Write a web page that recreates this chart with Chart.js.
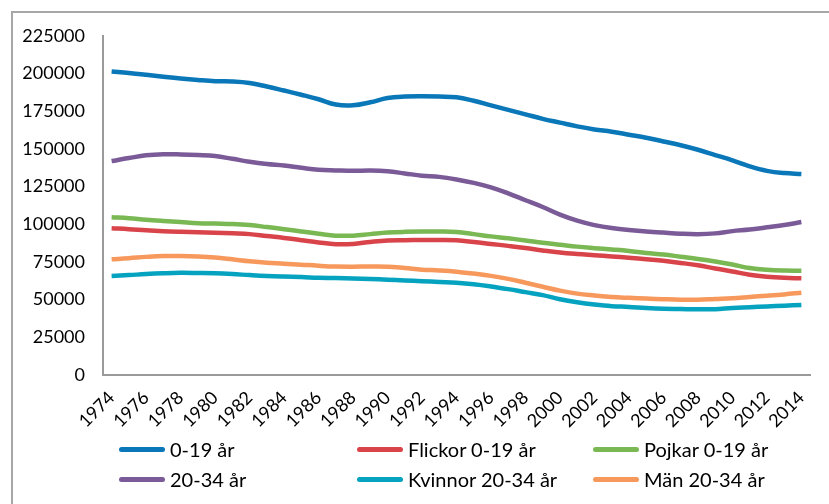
<!DOCTYPE html>
<html>
<head>
<meta charset="utf-8">
<script src="https://cdn.jsdelivr.net/npm/chart.js@4"></script>
<style>
  html, body { margin: 0; padding: 0; background: #fff; }
  #wrap { position: relative; width: 829px; height: 504px; overflow: hidden; font-family: Lato, "Liberation Sans", sans-serif; }
  #frame { position: absolute; left: 11px; top: 11px; width: 900px; height: 600px; border-top: 2px solid #a6a6a6; border-left: 2px solid #a6a6a6; box-sizing: border-box; }
  #chart-box { position: absolute; left: 0; top: 0; width: 829px; height: 430px; }
  #legend { position: absolute; left: 0; top: 0; width: 829px; height: 504px; pointer-events: none; }
  .leg-item { position: absolute; display: flex; align-items: center; font-size: 20px; color: #000; white-space: nowrap; }
  .leg-swatch { width: 46px; height: 5px; border-radius: 3px; margin-right: 5px; }
</style>
</head>
<body>
<div id="wrap">
  <div id="frame"></div>
  <div id="chart-box"><canvas id="chart" width="829" height="430"></canvas></div>
  <div id="legend"></div>
</div>
<script>
// Befolkning per år, 1974–2014
const years = [];
for (let y = 1974; y <= 2014; y++) years.push(String(y));

const yTicks = [0, 25000, 50000, 75000, 100000, 125000, 150000, 175000, 200000, 225000];

const seriesNames = ['0-19 år', 'Flickor 0-19 år', 'Pojkar 0-19 år', '20-34 år', 'Kvinnor 20-34 år', 'Män 20-34 år'];
const seriesColors = ['#0a77b8', '#d9444b', '#7ab853', '#7b5a98', '#05a3bf', '#f7995c'];

const total0to19 = [
  201500, 200500, 199300, 198000, 196800, 195800, 195000, 194800, 193800, 191500,
  188800, 186000, 183000, 179500, 179000, 181000, 183800, 184800, 185000, 184800,
  184300, 182000, 179000, 176000, 173000, 170000, 167500, 165000, 163000, 161500,
  159500, 157500, 155000, 152500, 149500, 146000, 142500, 138500, 135500, 134000,
  133400
];
const girls0to19 = [
  97400, 96800, 96000, 95400, 95000, 94700, 94400, 94000, 93500, 92200,
  91000, 89500, 88000, 86800, 87000, 88300, 89300, 89500, 89600, 89600,
  89400, 88300, 87000, 85700, 84300, 82700, 81300, 80300, 79500, 78700,
  77800, 76900, 75800, 74400, 72800, 70700, 68700, 66500, 65200, 64500,
  64200
];
const boys0to19 = [
  104700, 104000, 103000, 102200, 101500, 100800, 100500, 100200, 99500, 98200,
  96800, 95300, 93800, 92500, 92500, 93500, 94500, 95000, 95200, 95200,
  94900, 93500, 92000, 90700, 89300, 87800, 86500, 85200, 84200, 83300,
  82300, 81000, 80000, 78500, 77000, 75300, 73300, 71000, 69800, 69300,
  69200
];
const total20to34 = [
  142000, 144000, 145800, 146500, 146400, 146000, 145300, 143500, 141500, 140000,
  139000, 137500, 136200, 135800, 135500, 135700, 135200, 133800, 132300, 131500,
  129800, 127500, 124500, 120500, 116000, 111500, 106500, 102500, 99500, 97500,
  96300, 95300, 94500, 93800, 93500, 94000, 95500, 96500, 98000, 99500,
  101500
];
const women20to34 = [
  65700, 66300, 67000, 67500, 67800, 67700, 67500, 67000, 66300, 65700,
  65300, 65000, 64500, 64300, 64000, 63700, 63300, 62800, 62300, 61800,
  61300, 60300, 58800, 57000, 55000, 53000, 50300, 48300, 46800, 45700,
  45200, 44500, 44000, 43800, 43600, 43700, 44500, 45000, 45500, 46000,
  46500
];
const men20to34 = [
  76800, 77500, 78400, 79000, 79000, 78700, 78000, 76800, 75500, 74500,
  73900, 73200, 72500, 72000, 71900, 72000, 71900, 71000, 69900, 69400,
  68600, 67300, 65800, 63800, 61200, 58600, 56000, 54000, 52800, 51800,
  51200, 50700, 50300, 50000, 50000, 50500, 51000, 51800, 52600, 53500,
  54600
];

const allSeries = [total0to19, girls0to19, boys0to19, total20to34, women20to34, men20to34];

const datasets = allSeries.map((data, i) => ({
  label: seriesNames[i],
  data,
  borderColor: seriesColors[i],
  backgroundColor: seriesColors[i],
  borderWidth: 4.5,
  pointRadius: 0,
  tension: 0.4,
  fill: false
}));

// draw order in Excel: first series on the bottom
datasets.forEach((d, i) => { d.order = allSeries.length - i; });

const tickFont = { family: 'Lato, "Liberation Sans", sans-serif', size: 18 };

new Chart(document.getElementById('chart'), {
  type: 'line',
  data: { labels: years, datasets },
  options: {
    responsive: false,
    animation: false,
    layout: { padding: { top: 36, right: 19, left: 0, bottom: 0 } },
    plugins: { legend: { display: false }, tooltip: { enabled: false } },
    scales: {
      x: {
        type: 'category',
        offset: true,
        grid: { display: false },
        border: { display: true, color: '#9a9a9a', width: 2 },
        ticks: {
          autoSkip: false,
          minRotation: 45,
          maxRotation: 45,
          padding: 4,
          color: '#000',
          font: tickFont,
          callback: (v, i) => (i % 2 === 0 ? years[i] : '')
        },
        afterFit: (s) => { s.height = 55; }
      },
      y: {
        min: yTicks[0],
        max: yTicks[yTicks.length - 1],
        grid: { display: false },
        border: { display: true, color: '#9a9a9a', width: 2 },
        afterBuildTicks: (s) => { s.ticks = yTicks.map(v => ({ value: v })); },
        ticks: { padding: 10, color: '#000', font: tickFont, callback: (v) => String(v) },
        afterFit: (s) => { s.width = 103; }
      }
    }
  }
});

// legend: 3 columns x 2 rows, like the Excel original
const legendEl = document.getElementById('legend');
const colX = [119, 357, 593];
const rowY = [449, 479];
seriesNames.forEach((name, i) => {
  const item = document.createElement('div');
  item.className = 'leg-item';
  item.style.left = colX[i % 3] + 'px';
  item.style.top = (rowY[Math.floor(i / 3)] - 12) + 'px';
  item.style.height = '24px';
  item.innerHTML = `<span class="leg-swatch" style="background:${seriesColors[i]}"></span><span>${name}</span>`;
  legendEl.appendChild(item);
});
</script>
</body>
</html>
